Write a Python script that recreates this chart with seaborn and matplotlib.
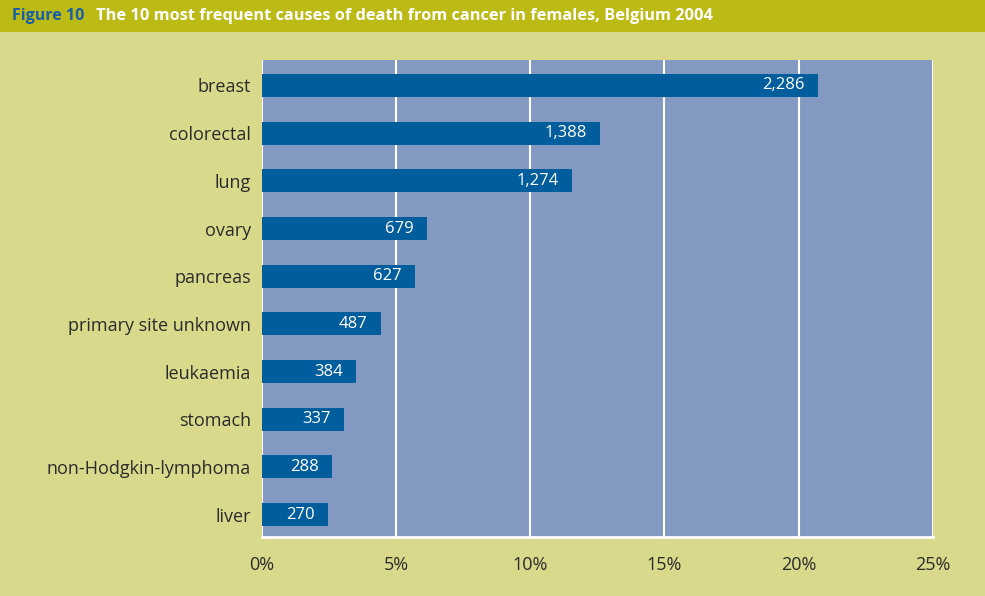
import matplotlib
matplotlib.use("Agg")
import matplotlib.pyplot as plt
import matplotlib.patches as mpatches
import seaborn as sns
import pandas as pd

# data
causes = ["breast", "colorectal", "lung", "ovary", "pancreas",
          "primary site unknown", "leukaemia", "stomach",
          "non-Hodgkin-lymphoma", "liver"]
percent = [20.71, 12.59, 11.55, 6.15, 5.70, 4.43, 3.50, 3.06, 2.61, 2.46]
deaths = [2286, 1388, 1274, 679, 627, 487, 384, 337, 288, 270]
xticks = [0, 5, 10, 15, 20, 25]

df = pd.DataFrame({"cause": causes, "percent": percent, "deaths": deaths})

sns.set_style("white")
plt.rcParams["font.family"] = ["Open Sans", "DejaVu Sans"]

fig_bg = "#d9d98c"
plot_bg = "#8399c2"
bar_col = "#025d9c"
txt_col = "#2b2b2b"

fig = plt.figure(figsize=(9.85, 5.96), dpi=100, facecolor=fig_bg)
ax = fig.add_axes([0.266, 0.099, 0.681, 0.800])
ax.set_facecolor(plot_bg)

# title bar
fig.patches.append(mpatches.Rectangle((0, 0.946), 1, 0.054, transform=fig.transFigure,
                                      facecolor="#bcbb16", edgecolor="none", zorder=0))
fig.text(0.012, 0.973, "Figure 10", color="#1a5ea4", fontsize=11.5, fontweight="bold",
         va="center", ha="left")
fig.text(0.097, 0.973, "The 10 most frequent causes of death from cancer in females, Belgium 2004",
         color="white", fontsize=11.8, fontweight="bold", va="center", ha="left")

ax.xaxis.grid(True, color="white", linewidth=1.5)
ax.set_axisbelow(True)
sns.barplot(data=df, x="percent", y="cause", orient="h", color=bar_col,
            saturation=1, width=0.48, linewidth=0, ax=ax, zorder=3)

for i, (p, d) in enumerate(zip(percent, deaths)):
    ax.annotate(f"{d:,}", xy=(p, i), xytext=(-9.5, 0), textcoords="offset points",
                ha="right", va="center", color="white", fontsize=12, zorder=4)

ax.set_xlim(0, 25)
ax.set_ylim(9.47, -0.53)
ax.set_xticks(xticks)
ax.set_xticklabels([f"{t}%" for t in xticks])
ax.set_xlabel("")
ax.set_ylabel("")
ax.tick_params(axis="x", length=0, pad=14, labelsize=13, labelcolor=txt_col)
ax.tick_params(axis="y", length=0, pad=8, labelsize=13, labelcolor=txt_col)
for s in ["top", "right", "left"]:
    ax.spines[s].set_visible(False)
ax.spines["bottom"].set_color("white")
ax.spines["bottom"].set_linewidth(2)

fig.savefig("out.png", dpi=100, facecolor=fig_bg)
